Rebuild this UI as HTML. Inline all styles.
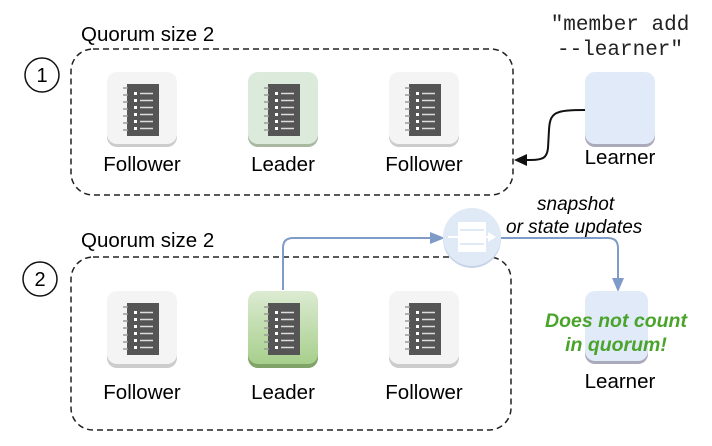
<!DOCTYPE html>
<html><head><style>body{margin:0;background:#fff}svg{display:block}</style></head><body>
<svg width="712" height="446" viewBox="0 0 712 446" xmlns="http://www.w3.org/2000/svg" font-family="Liberation Sans, Arial, sans-serif">
<defs>
<linearGradient id="g2" x1="0" y1="0" x2="0" y2="1"><stop offset="0" stop-color="#dcebd2"/><stop offset="1" stop-color="#a7cf8c"/></linearGradient>
<g id="nb">
<rect x="20" y="12" width="32" height="52" fill="#555"/>
<g fill="#fff"><rect x="27" y="20" width="3" height="3"/><rect x="27" y="27" width="3" height="3"/><rect x="27" y="34" width="3" height="3"/><rect x="27" y="41" width="3" height="3"/><rect x="27" y="48" width="3" height="3"/><rect x="27" y="55" width="3" height="3"/></g>
<g stroke="#ddd" stroke-width="1.5"><path d="M33 21.5h13M33 28.5h13M33 35.5h13M33 42.5h13M33 49.5h13M33 56.5h13"/></g>
<g stroke="#999" stroke-width="1.5"><path d="M16 16h5M16 23h5M16 30h5M16 37h5M16 44h5M16 51h5M16 58h5"/></g>
</g>
</defs>
<!-- panel 1 -->
<text x="81" y="41" font-size="20.5">Quorum size 2</text>
<circle cx="42" cy="75" r="17" fill="none" stroke="#111" stroke-width="1.5"/>
<text x="42" y="82" font-size="20" text-anchor="middle">1</text>
<rect x="71" y="49" width="442" height="146" rx="22" fill="none" stroke="#222" stroke-width="1.5" stroke-dasharray="6 4"/>
<g transform="translate(107,72)"><rect y="2" width="70" height="73" rx="10" fill="#ccc"/><rect width="70" height="72" rx="10" fill="#f4f4f4"/><use href="#nb"/></g>
<g transform="translate(248,72)"><rect y="2" width="70" height="73" rx="10" fill="#a9b8a0"/><rect width="70" height="72" rx="10" fill="#dceadb"/><use href="#nb"/></g>
<g transform="translate(389,72)"><rect y="2" width="70" height="73" rx="10" fill="#ccc"/><rect width="70" height="72" rx="10" fill="#f4f4f4"/><use href="#nb"/></g>
<g font-size="20.5" text-anchor="middle"><text x="142" y="171">Follower</text><text x="283" y="171">Leader</text><text x="424" y="171">Follower</text></g>
<text x="620" y="30" font-size="21" font-family="Liberation Mono, monospace" text-anchor="middle" fill="#222">"member add</text>
<text x="620" y="55" font-size="21" font-family="Liberation Mono, monospace" text-anchor="middle" fill="#222">--learner"</text>
<rect x="585" y="74" width="70" height="73" rx="10" fill="#aab"/>
<rect x="585" y="72" width="70" height="72" rx="10" fill="#e0eaf8"/>
<text x="620" y="164" font-size="20.5" text-anchor="middle">Learner</text>
<path d="M585 110 C555 110 550 112 549 130 L548 148 C547 158 543 160 530 160 L522 160" fill="none" stroke="#111" stroke-width="2"/>
<path d="M514 160 L527 154 L527 166 Z" fill="#111"/>
<!-- panel 2 -->
<text x="81" y="247" font-size="20.5">Quorum size 2</text>
<circle cx="40" cy="279" r="17" fill="none" stroke="#111" stroke-width="1.5"/>
<text x="40" y="286" font-size="20" text-anchor="middle">2</text>
<rect x="71" y="257" width="440" height="173" rx="22" fill="none" stroke="#222" stroke-width="1.5" stroke-dasharray="6 4"/>
<g transform="translate(107,291)"><rect y="2" width="70" height="75" rx="10" fill="#ccc"/><rect width="70" height="73" rx="10" fill="#f4f4f4"/><use href="#nb"/></g>
<g transform="translate(248,291)"><rect y="2" width="70" height="75" rx="10" fill="#7fa368"/><rect width="70" height="73" rx="10" fill="url(#g2)"/><use href="#nb"/></g>
<g transform="translate(389,291)"><rect y="2" width="70" height="75" rx="10" fill="#ccc"/><rect width="70" height="73" rx="10" fill="#f4f4f4"/><use href="#nb"/></g>
<g font-size="20.5" text-anchor="middle"><text x="142" y="399">Follower</text><text x="283" y="399">Leader</text><text x="424" y="399">Follower</text></g>
<path d="M283 290 L283 248 Q283 238 293 238 L440 238" fill="none" stroke="#7f9cc9" stroke-width="2"/>
<path d="M445 238 L430 232 L430 244 Z" fill="#7f9cc9"/>
<circle cx="472" cy="239" r="29" fill="#c6d3e8"/>
<circle cx="472" cy="237" r="29" fill="#e0e9f6"/>
<g fill="#fff"><rect x="458" y="222" width="28" height="30"/></g>
<g stroke="#e0e9f6" stroke-width="2"><path d="M460 230h24M460 237h24M460 244h24"/></g>
<path d="M448 237h42" stroke="#fff" stroke-width="2"/><path d="M496 237 L488 232 L488 242Z" fill="#fff"/>
<path d="M501 238 L608 238 Q618 238 618 248 L618 282" fill="none" stroke="#7f9cc9" stroke-width="2"/>
<path d="M618 292 L612 278 L624 278 Z" fill="#7f9cc9"/>
<text x="537" y="210" font-size="19" font-style="italic">snapshot</text>
<text x="506" y="233" font-size="19" font-style="italic">or state updates</text>
<rect x="585" y="293" width="63" height="71" rx="10" fill="#aab"/>
<rect x="585" y="291" width="63" height="70" rx="10" fill="#e0eaf8"/>
<text x="616" y="327" font-size="19.5" font-weight="bold" font-style="italic" fill="#4aa42c" text-anchor="middle">Does not count</text>
<text x="616" y="351" font-size="19.5" font-weight="bold" font-style="italic" fill="#4aa42c" text-anchor="middle">in quorum!</text>
<text x="620" y="388" font-size="20.5" text-anchor="middle">Learner</text>
</svg>
</body></html>
